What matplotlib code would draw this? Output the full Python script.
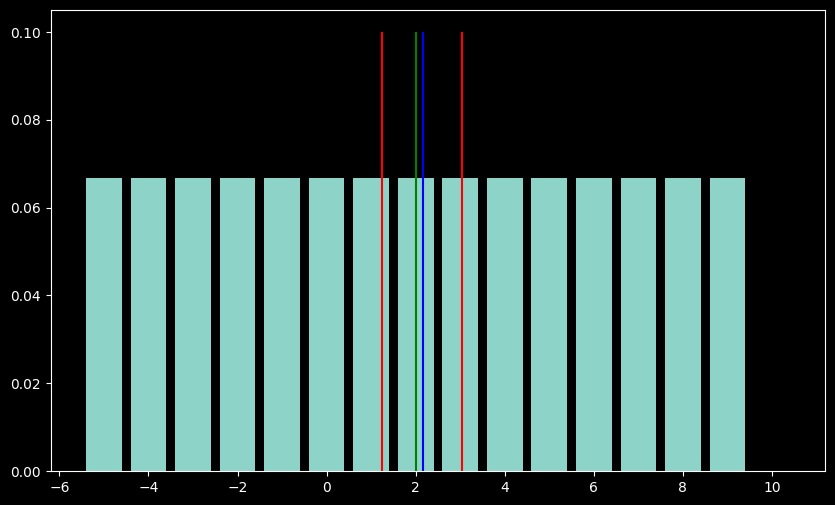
import matplotlib
matplotlib.use("Agg")
import matplotlib.pyplot as plt

plt.style.use("dark_background")

values = list(range(-5, 11))
probs = [1/15]*15 + [0.0]
red_lines = [1.235, 3.05]
green_line = 2.0
blue_line = 2.155

fig = plt.figure(figsize=(8.35, 5.05), dpi=100)
ax = fig.add_subplot(111)
fig.subplots_adjust(left=0.061, right=0.988, top=0.980, bottom=0.0673)
ax.bar(values, probs, width=0.8)
ax.vlines(red_lines[0], 0, 0.1, color="red")
ax.vlines(green_line, 0, 0.1, color="green")
ax.vlines(blue_line, 0, 0.1, color="blue")
ax.vlines(red_lines[1], 0, 0.1, color="red")
fig.savefig("out.png", dpi=100)
